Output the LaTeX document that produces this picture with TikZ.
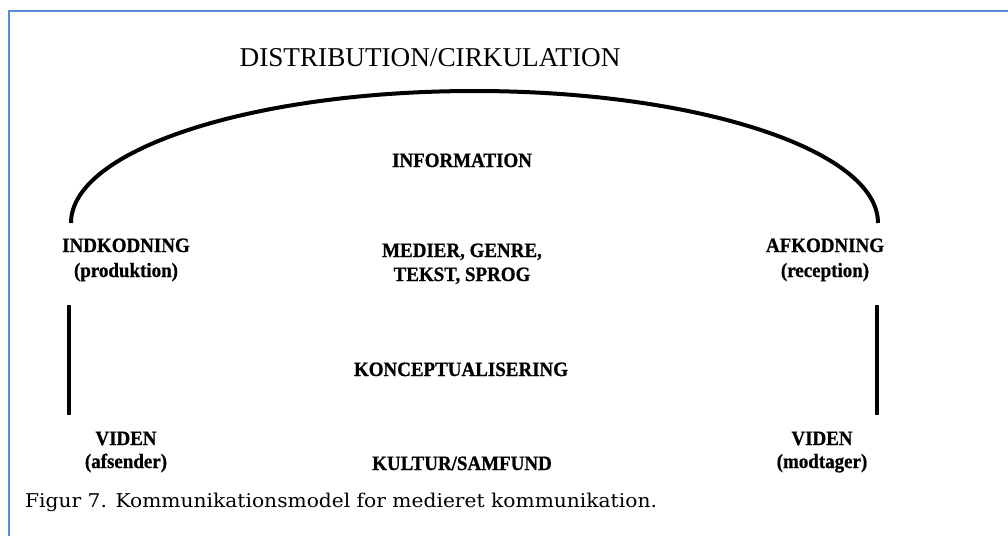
\documentclass[tikz,border=0pt]{standalone}
\usepackage{fontspec}
\setmainfont{Liberation Serif}
\newfontface\capfont[FakeStretch=1.064]{DejaVu Serif}
\newfontface\lblfont[FakeStretch=0.93,FakeBold=0.8]{Liberation Serif Bold}
\definecolor{framecol}{RGB}{84,141,212}
\begin{document}
\begin{tikzpicture}[x=1pt,y=-1pt,
  lbl/.style={anchor=base,inner sep=0pt,font=\lblfont\fontsize{20.4}{20.4}\selectfont},
  ttl/.style={anchor=base,inner sep=0pt,font=\fontsize{27.2}{27.2}\selectfont},
  capt/.style={anchor=base west,inner sep=0pt,font=\capfont\fontsize{19}{19}\selectfont},
  thick line/.style={line width=4pt,black},
  framel/.style={line width=2pt,framecol}]
\useasboundingbox (0,0) rectangle (1008,536);
% frame
\coordinate (fTR) at (1008,11);
\coordinate (fTL) at (9,11);
\coordinate (fBL) at (9,536);
\draw[framel] (fTR) -- (fTL) -- (fBL);
% title
\node[ttl] (title) at (430,66) {DISTRIBUTION/CIRKULATION};
% arc
\coordinate (encL) at (71,223);
\coordinate (encR) at (878,223);
\draw[thick line] (encL) arc[start angle=180,end angle=0,x radius=403.5,y radius=-132];
% labels
\node[lbl] (info) at (462,167) {INFORMATION};
\node[lbl] (ind1) at (126,252) {INDKODNING};
\node[lbl] (ind2) at (126,277) {(produktion)};
\node[lbl] (med1) at (462,257) {MEDIER, GENRE,};
\node[lbl] (med2) at (462,281) {TEKST, SPROG};
\node[lbl] (afk1) at (825,252) {AFKODNING};
\node[lbl] (afk2) at (825,277) {(reception)};
\node[lbl] (konc) at (461,376) {KONCEPTUALISERING};
\node[lbl] (vl1) at (126,445) {VIDEN};
\node[lbl] (vl2) at (126,468) {(afsender)};
\node[lbl] (kult) at (462,470) {KULTUR/SAMFUND};
\node[lbl] (vr1) at (822,445) {VIDEN};
\node[lbl] (vr2) at (822,468) {(modtager)};
% vertical lines
\coordinate (lT) at (69,305);
\coordinate (lB) at (69,415);
\coordinate (rT) at (877,305);
\coordinate (rB) at (877,415);
\draw[thick line] (lT) -- (lB);
\draw[thick line] (rT) -- (rB);
% caption
\node[capt] (cap) at (25,507) {Figur 7. Kommunikationsmodel for medieret kommunikation.};
\end{tikzpicture}
\end{document}
